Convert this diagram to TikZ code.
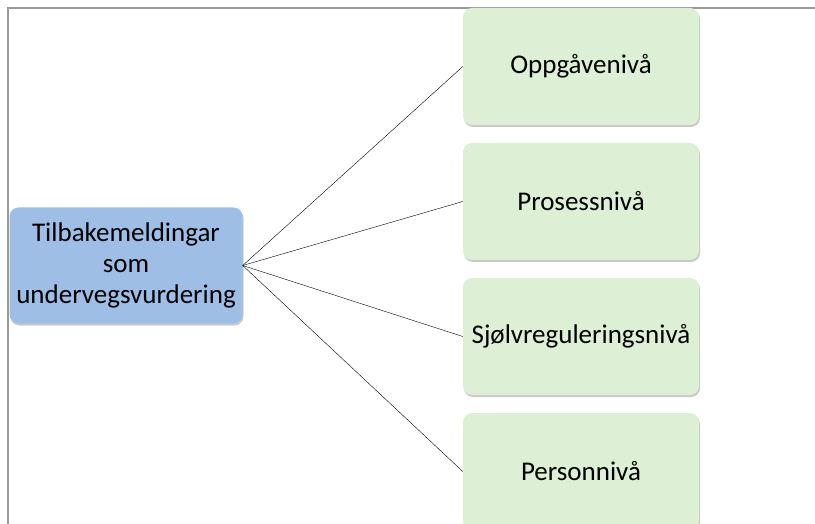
\documentclass[tikz,border=0pt]{standalone}
\usepackage{fontspec}
\setmainfont{Carlito}
\usepackage{tikz}
\usetikzlibrary{shadows}

\tikzset{
  boxshadow/.style={drop shadow={shadow xshift=1pt, shadow yshift=-2pt, opacity=0.35, fill=black!60}},
  mainbox/.style={rounded corners=9pt, fill={rgb,255:red,158;green,190;blue,230}, minimum width=233pt, minimum height=116pt, align=center, font=\fontsize{27}{31}\selectfont, boxshadow},
  levelbox/.style={rounded corners=9pt, fill={rgb,255:red,221;green,239;blue,213}, minimum width=236pt, minimum height=117pt, align=center, font=\fontsize{27}{31}\selectfont, boxshadow}
}

\begin{document}
\begin{tikzpicture}[x=1pt,y=-1pt]
                \useasboundingbox (0,0) rectangle (815,524);
                \clip (0,0) rectangle (815,524);
                % Frame
                \draw[gray!80, line width=1.3pt] (8,530) -- (8,8) -- (820,8);
                % Nodes
                \node[mainbox] (root) at (126,265.5) {Tilbakemeldingar\\som\\undervegsvurdering};
                \node[levelbox] (task) at (581,66.5) {Oppgåvenivå};
                \node[levelbox] (process) at (581,201.5) {Prosessnivå};
                \node[levelbox] (self) at (581,336.5) {Sjølvreguleringsnivå};
                \node[levelbox] (person) at (581,471.5) {Personnivå};
                % Edges
                \draw[-] (root.east) -- (task.west);
                \draw[-] (root.east) -- (process.west);
                \draw[-] (root.east) -- (self.west);
                \draw[-] (root.east) -- (person.west);
            \end{tikzpicture}
\end{document}
